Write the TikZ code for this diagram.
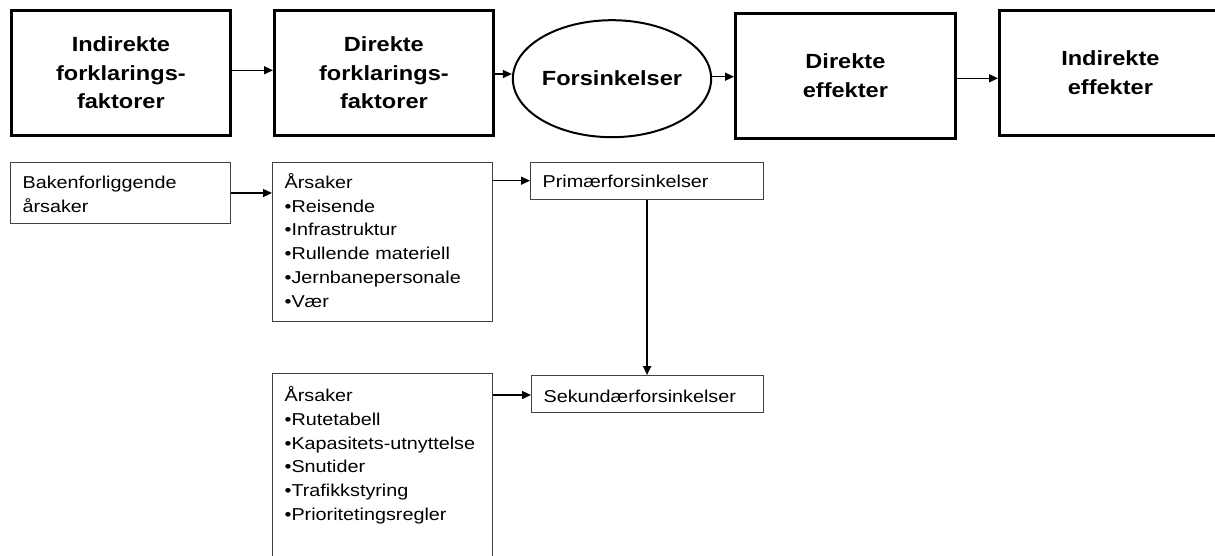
\documentclass[tikz,border=0pt]{standalone}
\usepackage{fontspec}
\usetikzlibrary{arrows.meta,shapes.geometric}
% Arial-metric sans, widened a little as in the original slide
\newfontfamily\slidefont{Liberation Sans}[FakeStretch=1.15]

\begin{document}
\begin{tikzpicture}[x=1pt,y=-1pt,
  stage/.style={draw=black, line width=2.8pt, rectangle, anchor=north west,
    inner sep=0pt, align=center,
    font=\slidefont\fontsize{20.5}{28.5}\selectfont\bfseries},
  textbox/.style={draw=black!75, line width=1.2pt, rectangle, anchor=north west,
    inner xsep=12pt, inner ysep=0pt, align=left,
    font=\slidefont\fontsize{17.2}{23.7}\selectfont},
  arr/.style={-{Triangle[length=9pt,width=8pt]}, line width=1.4pt, black}
]
\clip (0,0) rectangle (1215,556);
\fill[white] (0,0) rectangle (1215,556);

% --- main chain -------------------------------------------------------
\node[stage, minimum width=219pt, minimum height=125pt] (ind) at (10,9)
  {Indirekte\\forklarings-\\faktorer};
\node[stage, minimum width=219pt, minimum height=125pt] (dir) at (273,9)
  {Direkte\\forklarings-\\faktorer};
\node[ellipse, draw=black, line width=2pt, inner sep=0pt,
  minimum width=159pt, minimum height=117pt,
  font=\slidefont\fontsize{20.5}{28.5}\selectfont\bfseries] (fors) at (612,78.7)
  {\raisebox{2pt}{Forsinkelser}};
\node[stage, minimum width=220pt, minimum height=125pt] (deff) at (734,12)
  {Direkte\\effekter};
\node[stage, minimum width=222pt, minimum height=125pt] (ieff) at (998,9)
  {Indirekte\\effekter};

\draw[arr] (ind.east |- 0,70.3) -- (dir.west |- 0,70.3);
\draw[arr] (dir.east |- 0,74) -- (fors.west |- 0,74);
\draw[arr] (fors.east |- 0,76.7) -- (deff.west |- 0,76.7);
\draw[arr] (deff.east |- 0,78.3) -- (ieff.west |- 0,78.3);

% --- details ------------------------------------------------------------
\node[textbox, text width=196pt, text height=26pt, text depth=35pt] (bak) at (10,162)
  {Bakenforliggende\\årsaker};
\node[textbox, text width=196pt, text height=26pt, text depth=133pt] (aars1) at (272,162)
  {Årsaker\\•Reisende\\•Infrastruktur\\•Rullende materiell\\•Jernbanepersonale\\•Vær};
\node[textbox, text width=209pt, text height=25pt, text depth=12pt] (prim) at (530,162)
  {Primærforsinkelser};
\node[textbox, text width=196pt, text height=28pt, text depth=202pt] (aars2) at (272,373)
  {Årsaker\\•Rutetabell\\•Kapasitets\hbox{-}utnyttelse\\•Snutider\\•Trafikkstyring\\•Prioritetingsregler};
\node[textbox, text width=208pt, text height=26.5pt, text depth=10.5pt] (sek) at (531,375)
  {Sekundærforsinkelser};

\draw[arr] (bak.east |- 0,193) -- (aars1.west |- 0,193);
\draw[arr] (aars1.east |- 0,180.7) -- (prim.west |- 0,180.7);
\draw[arr, line width=1.8pt] (prim.south) -- (sek.north -| prim.south);
\draw[arr] (aars2.east |- 0,395) -- (sek.west |- 0,395);
\end{tikzpicture}
\end{document}
